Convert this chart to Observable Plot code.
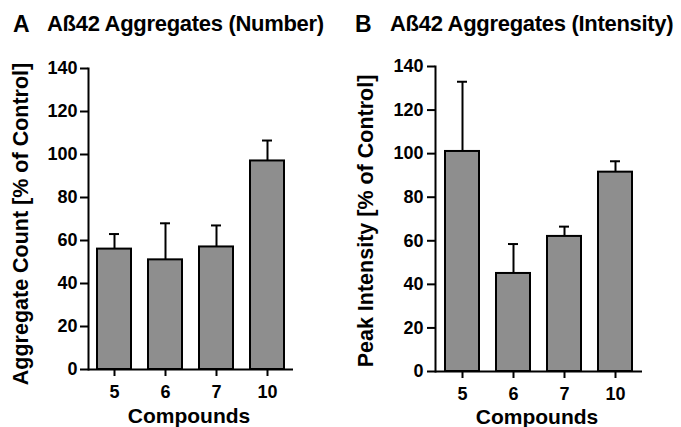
<!DOCTYPE html>
<html><head><meta charset="utf-8">
<script src="https://cdn.jsdelivr.net/npm/d3@7"></script>
<script src="https://cdn.jsdelivr.net/npm/@observablehq/plot@0.6"></script>
<style>
body{margin:0;background:#fff;font-family:"Liberation Sans",Arial,sans-serif;color:#000;}
#wrap{position:relative;width:681px;height:427px;overflow:hidden;background:#fff;}
.panel{position:absolute;top:0;height:427px;}
.letter{position:absolute;font-weight:bold;font-size:23px;line-height:23px;top:12.5px;white-space:nowrap;}
.title{position:absolute;font-weight:bold;font-size:22px;line-height:22px;top:13.4px;letter-spacing:-0.3px;white-space:nowrap;}
.plot{position:absolute;top:45px;left:0;}
</style></head>
<body>
<div id="wrap">
  <div class="panel" id="pA" style="left:0;width:340px;"></div>
  <div class="panel" id="pB" style="left:340px;width:341px;"></div>
</div>
<script>
const compounds = ["5", "6", "7", "10"];
const countMean = [56, 51, 57, 97];
const countErr = [7, 17, 10, 9.5];
const intensityMean = [101, 45, 62, 91.5];
const intensityErr = [32, 13.5, 4.5, 5];
const yTicks = [0, 20, 40, 60, 80, 100, 120, 140];
const panelLetters = ["A", "B"];
const panelTitles = ["Aß42 Aggregates (Number)", "Aß42 Aggregates (Intensity)"];
const yLabels = ["Aggregate Count [% of Control]", "Peak Intensity [% of Control]"];
const xLabel = "Compounds";

function panel(means, errs, yLabel, o) {
  const data = compounds.map((c, i) => ({c, v: means[i], hi: means[i] + errs[i]}));
  return Plot.plot({
    width: o.width, height: 382,
    marginLeft: o.ml, marginRight: o.mr, marginTop: o.mt, marginBottom: o.mb,
    style: {fontFamily: "'Liberation Sans', Arial, sans-serif", fontWeight: "bold", fontSize: "18px", color: "#000", background: "#fff", overflow: "visible"},
    x: {domain: compounds, paddingInner: 0.333, paddingOuter: 0.167, axis: null},
    y: {domain: [0, 140], axis: null},
    marks: [
      Plot.ruleX(data, {x: "c", y1: "v", y2: "hi", stroke: "#000", strokeWidth: 2}),
      Plot.tickY(data, {x: "c", y: "hi", stroke: "#000", strokeWidth: 2, inset: 12}),
      Plot.barY(data, {x: "c", y: "v", fill: "#8e8e8e", stroke: "#000", strokeWidth: 2}),
      Plot.frame({anchor: "left", stroke: "#000", strokeWidth: 2}),
      Plot.ruleY([0], {stroke: "#000", strokeWidth: 2}),
      Plot.axisY({ticks: yTicks, tickSize: o.yts, tickFormat: () => "", stroke: "#000", strokeWidth: 2, label: null}),
      Plot.axisX({tickSize: 7, tickFormat: () => "", stroke: "#000", strokeWidth: 2, label: null}),
      Plot.text(yTicks, {y: d => d, text: d => String(d), frameAnchor: "left", textAnchor: "end", lineAnchor: "middle", dx: -(o.yts + o.ytp), fontSize: 18, fontWeight: "bold", fill: "#000"}),
      Plot.text(compounds, {x: d => d, text: d => d, frameAnchor: "bottom", textAnchor: "middle", lineAnchor: "top", dy: 15.5, fontSize: 18, fontWeight: "bold", fill: "#000"}),
      Plot.text([yLabel], {frameAnchor: "left", textAnchor: "middle", lineAnchor: "middle", rotate: -90, dx: o.ldx, dy: o.ldy, fontSize: 21.5, fontWeight: "bold", fill: "#000"}),
      Plot.text([xLabel], {frameAnchor: "bottom", textAnchor: "middle", lineAnchor: "middle", dx: o.xdx, dy: o.xdy, fontSize: 21, fontWeight: "bold", fill: "#000"})
    ]
  });
}

function build(id, idx, means, errs, o) {
  const host = document.getElementById(id);
  const L = document.createElement("div");
  L.className = "letter"; L.style.left = o.letterX + "px"; L.textContent = panelLetters[idx];
  const T = document.createElement("div");
  T.className = "title"; T.style.left = o.titleX + "px"; T.textContent = panelTitles[idx];
  const P = document.createElement("div");
  P.className = "plot";
  P.appendChild(panel(means, errs, yLabels[idx], o));
  host.appendChild(L); host.appendChild(T); host.appendChild(P);
}

build("pA", 0, countMean, countErr, {width: 340, ml: 88, mr: 47, mt: 23, mb: 58, ldx: -67.5, ldy: 5, xdx: -2, xdy: 46.5, yts: 8, ytp: 3, letterX: 13, titleX: 47});
build("pB", 1, intensityMean, intensityErr, {width: 341, ml: 95, mr: 39, mt: 21, mb: 56, ldx: -69.5, ldy: 2, xdx: -2, xdy: 46, yts: 8, ytp: 4, letterX: 15, titleX: 50});
</script>
</body></html>
